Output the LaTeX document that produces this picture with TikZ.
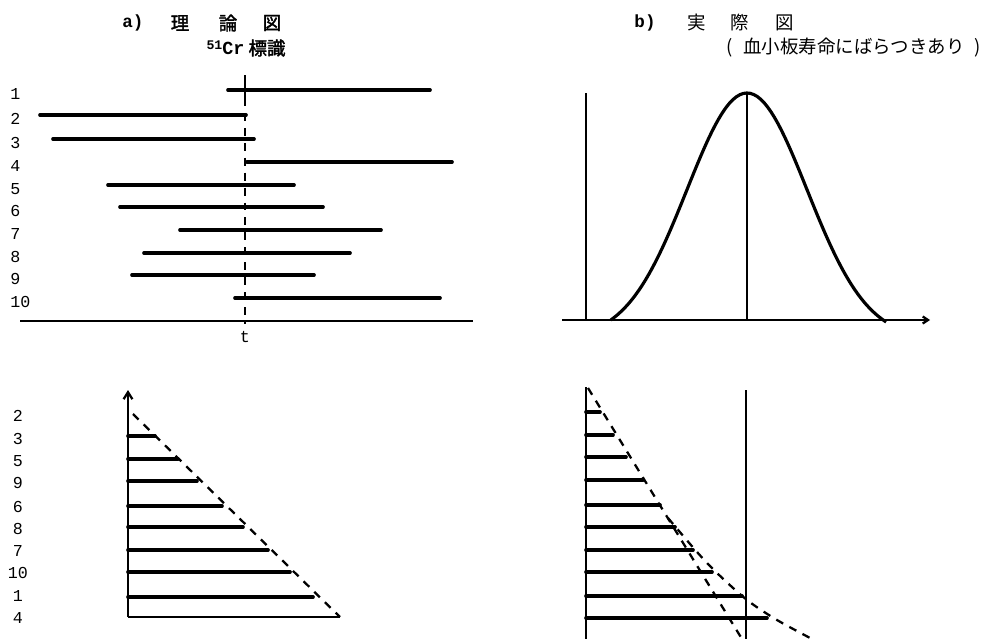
\documentclass[tikz,border=0pt]{standalone}
\usepackage{fontspec}
\setmonofont{Liberation Mono}
\newfontfamily\jp{Noto Sans CJK JP}
\newfontfamily\jpbold[FakeBold=2]{Noto Sans CJK JP}
\usetikzlibrary{positioning, arrows.meta}
\tikzset{
    bar/.style={line width=2.1pt, line cap=round}, % life span bars
    axisline/.style={line width=1.3pt},
    guide/.style={line width=1.3pt, dash pattern=on 4.5pt off 4pt},
    rowlabel/.style={font=\ttfamily\fontsize{9.5}{10}\selectfont, inner sep=0pt},
    title/.style={font=\jp\fontsize{10.5}{12}\selectfont, inner sep=0pt},
    boldtitle/.style={font=\jpbold\fontsize{10.5}{12}\selectfont, inner sep=0pt},
    tag/.style={font=\ttfamily\bfseries\fontsize{10}{12}\selectfont, inner sep=0pt},
}

\begin{document}
\begin{tikzpicture}[x=0.02cm, y=-0.02cm]
    \useasboundingbox (0,0) rectangle (1002,639);

    % Titles a)
    \node[tag]       (ta)  at (133,23) {a)};
    \node[boldtitle] (ta1) at (180,23) {理};
    \node[boldtitle] (ta2) at (228,23) {論};
    \node[boldtitle] (ta3) at (272,23) {図};
    \node[boldtitle] (cr)  at (246,48) {{\ttfamily\bfseries\raisebox{0.55ex}{\fontsize{7.5}{8}\selectfont 51}Cr} 標識};

    % Titles b)
    \node[tag]   (tb)  at (645,23) {b)};
    \node[title] (tb1) at (697,23) {実};
    \node[title] (tb2) at (740,23) {際};
    \node[title] (tb3) at (785,23) {図};
    \node[title] (sub) at (854,48) {(\hspace{0.55em}血小板寿命にばらつきあり\hspace{0.55em})};

    % a) life spans of labelled platelets
    \foreach \n/\y/\xa/\xb in {1/90/228/430, 2/115/40/246, 3/139/53/254, 4/162/247/452,
                               5/185/108/294, 6/207/120/323, 7/230/180/381,
                               8/253/144/350, 9/275/132/314, 10/298/235/440}{
        \node[rowlabel, anchor=west] (la\n) at (10,\y+4) {\n};
        \draw[bar] (\xa,\y) -- (\xb,\y);
    }
    \draw[axisline] (20,321) -- (473,321);
    \coordinate (tt) at (245,75);
    \draw[axisline] (tt) -- (245,98);
    \draw[guide] (245,98) -- (245,324);
    \node[rowlabel] (t) at (245,337) {t};

    % a) survival after t
    \draw[axisline, -{Straight Barb[length=4pt, width=5pt]}] (128,617) coordinate (oa) -- (128,390);
    \draw[axisline] (oa) -- (340,617) coordinate (ea);
    \foreach \y/\xb in {436/155, 459/178, 481/197, 506/222, 527/243, 550/268, 572/290, 597/313}{
        \draw[bar] (128,\y) -- (\xb,\y);
    }
    \foreach \n/\y in {2/416, 3/439, 5/461, 9/483, 6/507, 8/529, 7/551, 10/573, 1/596, 4/618}{
        \node[rowlabel] (lb\n) at (18,\y) {\n};
    }
    \draw[guide] (133,414) -- (ea);

    % b) distribution of life spans
    \draw[axisline] (586,93) -- (586,320);
    \draw[axisline, -{Straight Barb[length=3pt, width=4pt]}] (562,320) -- (930,320);
    \draw[axisline] (747,93) -- (747,320);
    \draw[line width=1.8pt] plot[domain=-2.27:2.32, samples=80]
        ({747+60*\x}, {320-227*(exp(-\x*\x/2)-0.076)/0.924});

    % b) survival curve
    \draw[axisline] (586,387) -- (586,639);
    \draw[axisline] (746,390) -- (746,639);
    \foreach \y/\xb in {412/600, 435/613, 457/626, 480/643, 505/660,
                        527/675, 550/693, 572/712, 596/742, 618/767}{
        \draw[bar] (586,\y) -- (\xb,\y);
    }
    \coordinate (sa) at (588,388);
    \coordinate (sb) at (668,518);
    \draw[guide] (sa) -- (742,639);
    \draw[guide] plot[smooth] coordinates {(sb) (697,552) (717,573) (747,600) (777,620) (812,639)};
\end{tikzpicture}
\end{document}
